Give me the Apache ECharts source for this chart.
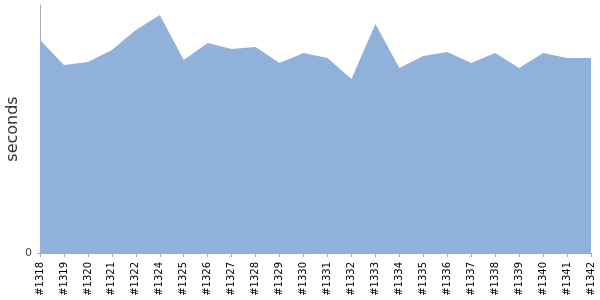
<!DOCTYPE html>
<html><head><meta charset="utf-8">
<script src="https://cdn.jsdelivr.net/npm/echarts@6/dist/echarts.min.js"></script>
<style>html,body{margin:0;padding:0;background:#fff}#c{width:600px;height:300px}</style>
</head><body><div id="c"></div>
<script>
const categories = ['#1318','#1319','#1320','#1321','#1322','#1324','#1325','#1326','#1327','#1328','#1329','#1330','#1331','#1332','#1333','#1334','#1335','#1336','#1337','#1338','#1339','#1340','#1341','#1342'];
const seconds = [213,188,191,203,223,238,193,210,204,206,190,200,195,174,229,185,197,201,190,200,185,200,195,195];
const yMax = 248;

const chart = echarts.init(document.getElementById('c'), null, {renderer:'canvas'});
chart.setOption({
  animation:false,
  grid:{left:40,right:9,top:5,bottom:47,containLabel:false,outerBoundsMode:'none'},
  xAxis:{
    type:'category', data:categories, boundaryGap:false,
    axisLine:{lineStyle:{color:'#aaaaaa'}},
    axisTick:{show:true,length:4,alignWithLabel:true,lineStyle:{color:'#aaaaaa'}},
    axisLabel:{rotate:90,interval:0,fontSize:10,color:'#000',fontFamily:'DejaVu Sans',margin:9}
  },
  yAxis:{
    type:'value', min:0, max:yMax,
    name:'seconds', nameLocation:'middle', nameGap:19, nameMoveOverlap:false,
    nameTextStyle:{fontSize:16,color:'#333',fontFamily:'DejaVu Sans'},
    axisLine:{show:true,lineStyle:{color:'#aaaaaa'}},
    axisTick:{show:true,length:3,customValues:[0],lineStyle:{color:'#aaaaaa'}},
    axisLabel:{customValues:[0],fontSize:11,color:'#444',fontFamily:'DejaVu Sans',margin:8},
    splitLine:{show:false}
  },
  series:[{
    type:'line', data:seconds, symbol:'none',
    lineStyle:{width:0}, areaStyle:{color:'#8fb1da',opacity:1}
  }]
});
</script></body></html>
